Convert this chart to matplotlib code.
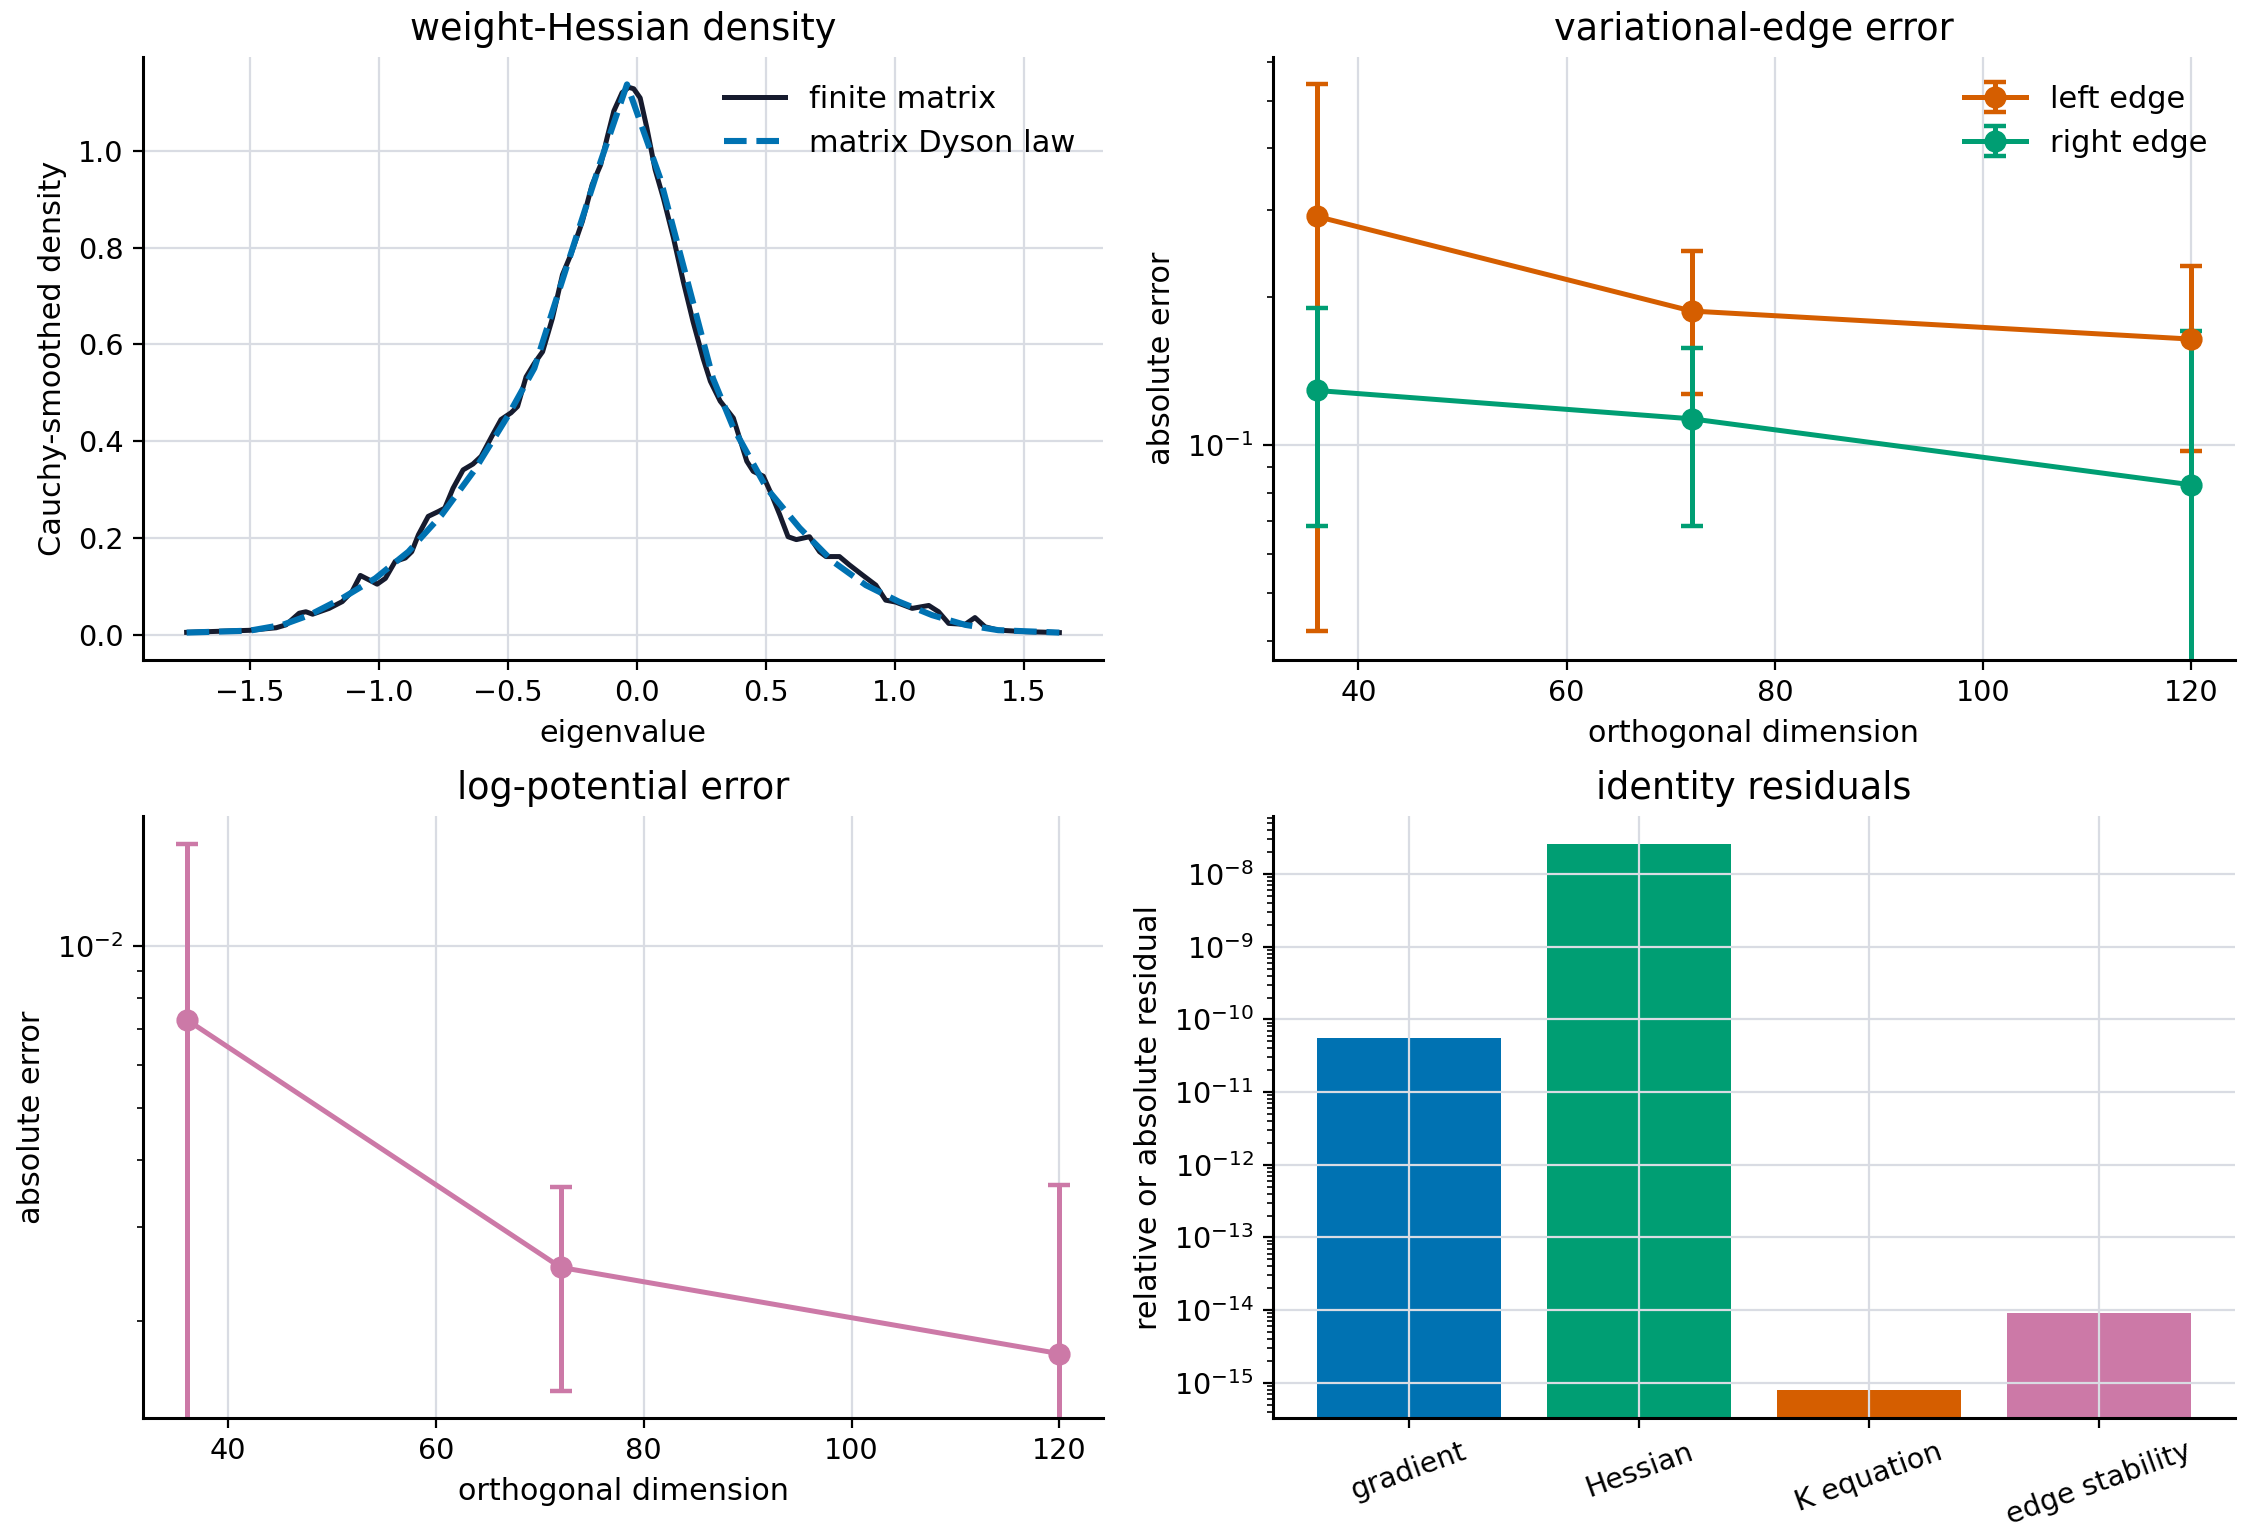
import numpy as np
import matplotlib
matplotlib.use("Agg")
import matplotlib.pyplot as plt

# --- density panel ---
finite_x = [-1.744, -1.5, -1.397, -1.359, -1.308, -1.282, -1.256, -1.192, -1.141, -1.103,
            -1.071, -1.038, -1.006, -0.974, -0.936, -0.897, -0.872, -0.846, -0.808, -0.769,
            -0.744, -0.712, -0.673, -0.635, -0.603, -0.558, -0.526, -0.487, -0.462, -0.429,
            -0.397, -0.365, -0.327, -0.288, -0.256, -0.211, -0.173, -0.140, -0.115, -0.089,
            -0.057, -0.031, -0.012, 0.013, 0.039, 0.071, 0.103, 0.142, 0.180, 0.218,
            0.257, 0.285, 0.323, 0.374, 0.426, 0.451, 0.490, 0.522, 0.554, 0.586,
            0.618, 0.669, 0.708, 0.733, 0.785, 0.823, 0.874, 0.926, 0.964, 1.003,
            1.067, 1.131, 1.169, 1.208, 1.272, 1.310, 1.349, 1.400, 1.503, 1.637]
finite_y = [0.0055, 0.0097, 0.015, 0.021, 0.045, 0.048, 0.043, 0.055, 0.069, 0.090,
            0.123, 0.114, 0.105, 0.117, 0.152, 0.159, 0.172, 0.207, 0.245, 0.255,
            0.262, 0.303, 0.341, 0.353, 0.369, 0.414, 0.445, 0.459, 0.472, 0.533,
            0.561, 0.585, 0.654, 0.744, 0.785, 0.854, 0.930, 0.971, 1.027, 1.082,
            1.120, 1.131, 1.128, 1.109, 1.047, 0.961, 0.902, 0.820, 0.730, 0.647,
            0.571, 0.524, 0.483, 0.448, 0.359, 0.338, 0.328, 0.290, 0.248, 0.203,
            0.197, 0.203, 0.172, 0.162, 0.162, 0.145, 0.124, 0.103, 0.072, 0.068,
            0.055, 0.061, 0.048, 0.024, 0.022, 0.036, 0.017, 0.010, 0.007, 0.005]

dyson_x = [-1.744, -1.5, -1.372, -1.269, -1.141, -1.013, -0.885, -0.756, -0.628, -0.5,
           -0.397, -0.269, -0.140, -0.038, 0.09, 0.193, 0.295, 0.374, 0.503, 0.631,
           0.759, 0.887, 1.015, 1.144, 1.272, 1.400, 1.637]
dyson_y = [0.005, 0.009, 0.021, 0.041, 0.076, 0.117, 0.172, 0.248, 0.341, 0.452,
           0.551, 0.765, 0.978, 1.137, 0.944, 0.737, 0.530, 0.428, 0.303, 0.221,
           0.152, 0.103, 0.069, 0.041, 0.021, 0.010, 0.005]

# --- edge errors ---
dims = [36, 72, 120]
left_err = [0.291, 0.187, 0.164]
left_sd = [0.249, 0.060, 0.067]
right_err = [0.129, 0.113, 0.083]
right_sd = [0.0605, 0.0445, 0.0876]

# --- log-potential error ---
logpot_err = [0.0073, 0.00252, 0.00174]
logpot_sd = [0.0082, 0.00104, 0.00185]

# --- identity residuals ---
res_names = ["gradient", "Hessian", "K equation", "edge stability"]
res_vals = [5.5e-11, 2.62e-8, 7.9e-16, 9.25e-15]

blue, green, orange, pink = "#0072B2", "#009E73", "#D55E00", "#CC79A7"
dark = "#161b2e"
gridc = "#d9dce3"

plt.rcParams.update({
    "font.family": "DejaVu Sans",
    "font.size": 11,
    "axes.titlesize": 13.2,
    "axes.labelsize": 10.9,
    "xtick.labelsize": 10.3,
    "ytick.labelsize": 10.3,
    "legend.fontsize": 11,
    "axes.spines.top": False,
    "axes.spines.right": False,
    "axes.linewidth": 1.1,
    "grid.color": gridc,
    "grid.linewidth": 0.8,
})

fig = plt.figure(figsize=(11.22, 7.7), dpi=200)
W, H = 2244, 1540


def box(l, r, t, b):
    return [l / W, 1 - b / H, (r - l) / W, (b - t) / H]


ax1 = fig.add_axes(box(143, 1103, 57, 660))
ax2 = fig.add_axes(box(1273, 2235, 57, 660))
ax3 = fig.add_axes(box(143, 1103, 816, 1418))
ax4 = fig.add_axes(box(1273, 2235, 816, 1418))

# panel 1
ax1.plot(finite_x, finite_y, color=dark, lw=1.8, label="finite matrix")
ax1.plot(dyson_x, dyson_y, color=blue, lw=2.2, ls="--", label="matrix Dyson law")
ax1.set_title("weight-Hessian density")
ax1.set_xlabel("eigenvalue")
ax1.set_ylabel("Cauchy-smoothed density")
ax1.grid(True)
ax1.legend(frameon=False, loc="upper right")

# panel 2
ax2.errorbar(dims, left_err, yerr=left_sd, color=orange, marker="o", ms=7, lw=1.8,
             capsize=4, capthick=1.6, label="left edge")
ax2.errorbar(dims, right_err, yerr=right_sd, color=green, marker="o", ms=7, lw=1.8,
             capsize=4, capthick=1.6, label="right edge")
ax2.set_yscale("log")
ax2.set_ylim(0.0366, 0.613)
ax2.set_title("variational-edge error")
ax2.set_xlabel("orthogonal dimension")
ax2.set_ylabel("absolute error")
ax2.grid(True)
ax2.legend(frameon=False, loc="upper right")

# panel 3
ax3.errorbar(dims, logpot_err, yerr=logpot_sd, color=pink, marker="o", ms=7, lw=1.8,
             capsize=4, capthick=1.6)
ax3.set_yscale("log")
ax3.set_ylim(0.00132, 0.0175)
ax3.set_title("log-potential error")
ax3.set_xlabel("orthogonal dimension")
ax3.set_ylabel("absolute error")
ax3.grid(True)

# panel 4
ax4.bar(res_names, res_vals, color=[blue, green, orange, pink])
ax4.set_yscale("log")
ax4.set_ylim(3.27e-16, 6.3e-8)
ax4.set_title("identity residuals")
ax4.set_ylabel("relative or absolute residual")
ax4.grid(True)
ax4.tick_params(axis="x", rotation=20)

fig.savefig("out.png", dpi=200)
